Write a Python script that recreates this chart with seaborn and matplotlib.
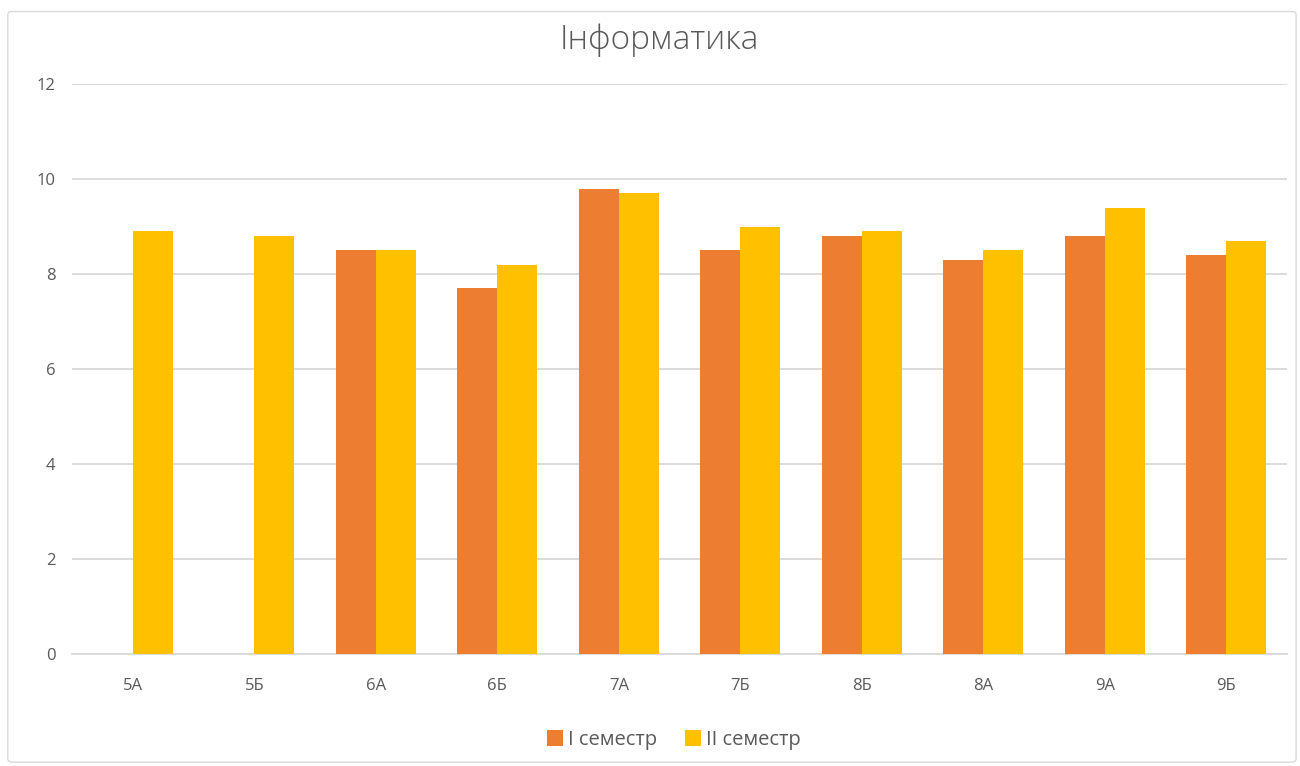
import numpy as np
import pandas as pd
import seaborn as sns
import matplotlib.pyplot as plt
from matplotlib.patches import FancyBboxPatch

classes = ["5А", "5Б", "6А", "6Б", "7А", "7Б", "8Б", "8А", "9А", "9Б"]
sem1 = [np.nan, np.nan, 8.5, 7.7, 9.8, 8.5, 8.8, 8.3, 8.8, 8.4]
sem2 = [8.9, 8.8, 8.5, 8.2, 9.7, 9.0, 8.9, 8.5, 9.4, 8.7]
series = ["I семестр", "II семестр"]

df = pd.DataFrame({
    "class": classes * 2,
    "value": sem1 + sem2,
    "series": [series[0]] * len(classes) + [series[1]] * len(classes),
})

sns.set_style("white")
plt.rcParams["font.family"] = ["Open Sans", "DejaVu Sans"]
txt = "#595959"

fig = plt.figure(figsize=(13, 7.66), dpi=100)
ax = fig.add_axes([0.0554, 0.146, 0.9346, 0.744])

sns.barplot(data=df, x="class", y="value", hue="series", order=classes,
            palette=["#ED7D31", "#FFC000"], width=0.66, saturation=1,
            errorbar=None, linewidth=0, ax=ax, zorder=3)

ax.set_ylim(0, 12)
ax.set_yticks(range(0, 13, 2))
ax.yaxis.grid(True, color="#D9D9D9", linewidth=1.3, zorder=0)
ax.set_axisbelow(True)
for s in ["top", "right", "left"]:
    ax.spines[s].set_visible(False)
ax.spines["bottom"].set_color("#D9D9D9")
ax.spines["bottom"].set_linewidth(1.3)
ax.tick_params(axis="both", length=0, colors=txt, labelsize=12)
ax.tick_params(axis="y", pad=12)
ax.tick_params(axis="x", pad=17)
ax.set_xlabel("")
ax.set_ylabel("")

fig.text(659 / 1300, 1 - 40 / 766, "Інформатика", ha="center", va="center",
         fontsize=24, color=txt, fontweight="light")

ax.legend(loc="center", bbox_to_anchor=(674 / 1300, 1 - 740 / 766), bbox_transform=fig.transFigure,
          ncol=2, frameon=False, fontsize=14.5, labelcolor=txt, handlelength=0.8, handleheight=0.8,
          handletextpad=0.25, columnspacing=1.4)

fig.patches.append(FancyBboxPatch((0.006, 0.005), 0.991, 0.98, transform=fig.transFigure,
                                  boxstyle="round,pad=0,rounding_size=0.004",
                                  facecolor="none", edgecolor="#D9D9D9", linewidth=1))

fig.savefig("out.png", dpi=100)
